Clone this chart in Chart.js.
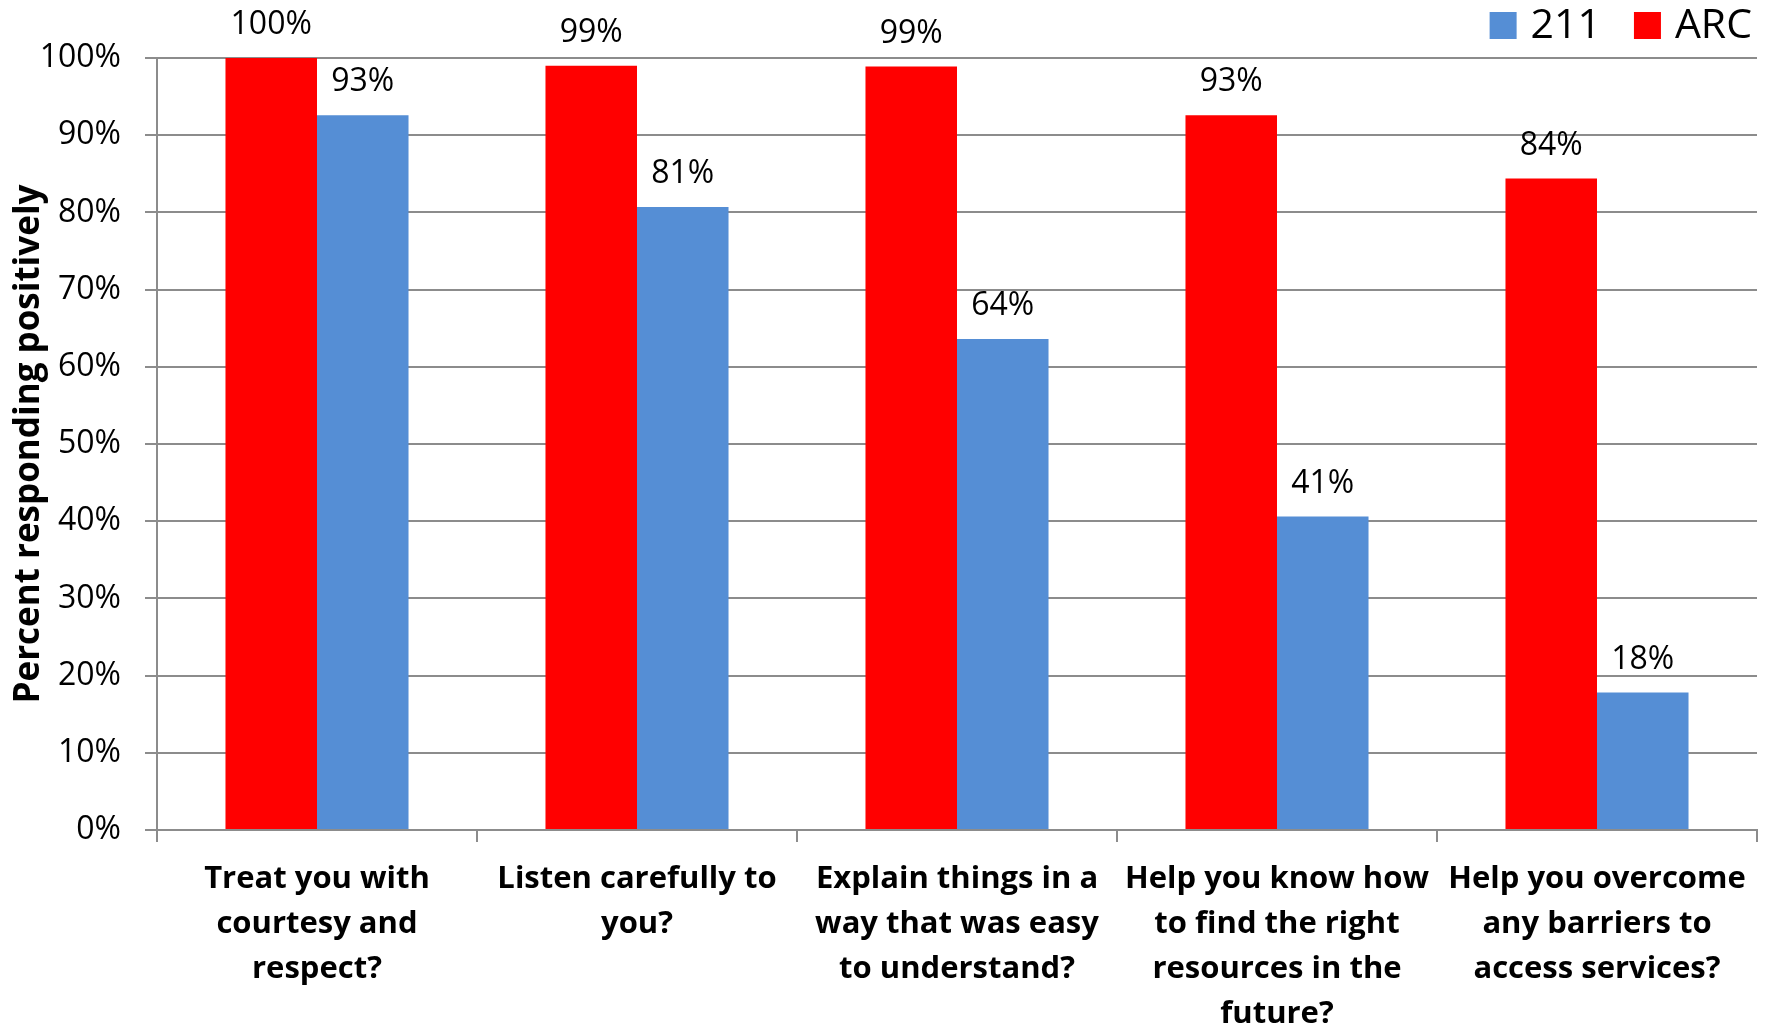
<!DOCTYPE html>
<html>
<head>
<meta charset="utf-8">
<title>Percent responding positively</title>
<script src="https://cdn.jsdelivr.net/npm/chart.js@4.4.0/dist/chart.umd.min.js"></script>
<style>
    html, body { margin: 0; padding: 0; background: #ffffff; }
    #wrap { width: 1767px; height: 1031px; }
</style>
</head>
<body>
<div id="wrap"><canvas id="surveyChart"></canvas></div>
<script>
// Chart data
const categories = [
    ['Treat you with', 'courtesy and', 'respect?'],
    ['Listen carefully to', 'you?'],
    ['Explain things in a', 'way that was easy', 'to understand?'],
    ['Help you know how', 'to find the right', 'resources in the', 'future?'],
    ['Help you overcome', 'any barriers to', 'access services?']
];
const arcValues = [100, 99.0, 98.9, 92.6, 84.4];
const values211 = [92.6, 80.7, 63.6, 40.6, 17.8];
const yTicks = [0, 10, 20, 30, 40, 50, 60, 70, 80, 90, 100];

const FONT = "'Open Sans', 'Liberation Sans', sans-serif";
const GRID = '#8c8c8c';

// Value labels above each bar
const barLabels = {
    id: 'barLabels',
    afterDatasetsDraw(chart) {
        const ctx = chart.ctx;
        ctx.save();
        ctx.font = '32px ' + FONT;
        ctx.fillStyle = '#000';
        ctx.textAlign = 'center';
        ctx.textBaseline = 'middle';
        chart.data.datasets.forEach((ds, i) => {
            chart.getDatasetMeta(i).data.forEach((bar, j) => {
                ctx.fillText(Math.round(ds.data[j]) + '%', bar.x, bar.y - 33);
            });
        });
        ctx.restore();
    }
};

// Legend in the top right corner, 211 first
const cornerLegend = {
    id: 'cornerLegend',
    afterDraw(chart) {
        const ctx = chart.ctx;
        const items = chart.data.datasets.slice().reverse();
        ctx.save();
        ctx.font = '41px ' + FONT;
        ctx.textBaseline = 'middle';
        ctx.textAlign = 'left';
        let x = chart.chartArea.right - 5;
        const positions = [];
        for (let i = items.length - 1; i >= 0; i--) {
            const w = ctx.measureText(items[i].label).width;
            x -= w;
            positions[i] = { box: x - 14 - 27, text: x };
            x -= 14 + 27 + 33;
        }
        items.forEach((ds, i) => {
            ctx.fillStyle = ds.backgroundColor;
            ctx.fillRect(positions[i].box, 12, 27, 27);
            ctx.fillStyle = '#000';
            ctx.fillText(ds.label, positions[i].text, 26);
        });
        ctx.restore();
    }
};

const ctx = document.getElementById('surveyChart').getContext('2d');
new Chart(ctx, {
    type: 'bar',
    data: {
        labels: categories,
        datasets: [
            { label: 'ARC', data: arcValues, backgroundColor: '#ff0000' },
            { label: '211', data: values211, backgroundColor: '#558ed5' }
        ]
    },
    options: {
        responsive: true,
        maintainAspectRatio: false,
        animation: false,
        datasets: {
            bar: { categoryPercentage: 0.572, barPercentage: 1.0 }
        },
        layout: { padding: { top: 58, right: 10, left: 0, bottom: 0 } },
        plugins: {
            legend: { display: false },
            tooltip: { enabled: false }
        },
        scales: {
            x: {
                afterFit(scale) { scale.height = 201; },
                grid: {
                    offset: true,
                    drawOnChartArea: false,
                    drawTicks: true,
                    tickLength: 12,
                    color: GRID,
                    lineWidth: 2
                },
                border: { color: GRID, width: 2 },
                ticks: {
                    color: '#000',
                    maxRotation: 0,
                    minRotation: 0,
                    autoSkip: false,
                    padding: 15,
                    font: { family: FONT, size: 31, weight: 'bold', lineHeight: 1.45 }
                }
            },
            y: {
                min: 0,
                max: 100,
                afterFit(scale) { scale.width = 157; },
                afterBuildTicks(scale) {
                    scale.ticks = yTicks.map(v => ({ value: v }));
                },
                grid: { color: GRID, lineWidth: 2, tickLength: 12 },
                border: { color: GRID, width: 2 },
                ticks: {
                    color: '#000',
                    padding: 24,
                    font: { family: FONT, size: 32 },
                    callback: v => v + '%'
                },
                title: {
                    display: true,
                    text: 'Percent responding positively',
                    color: '#000',
                    padding: { top: 8, bottom: 0 },
                    font: { family: FONT, size: 35, weight: 'bold', lineHeight: 1.2 }
                }
            }
        }
    },
    plugins: [barLabels, cornerLegend]
});
</script>
</body>
</html>
